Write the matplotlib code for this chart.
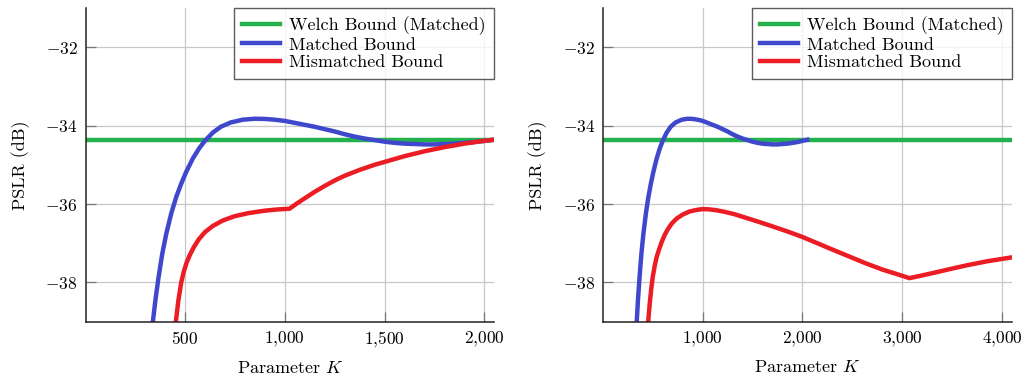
import matplotlib
matplotlib.use("Agg")
import matplotlib.pyplot as plt
from matplotlib.ticker import FuncFormatter

plt.rcParams['font.family'] = ['cmr10', 'DejaVu Serif']
plt.rcParams['mathtext.fontset'] = 'cm'
plt.rcParams['axes.formatter.use_mathtext'] = True
plt.rcParams['axes.unicode_minus'] = True

# Welch bound (matched), constant over K
welch_db = -34.36

# matched bound (same curve on both panels, K up to 2048)
k_matched = [330, 340, 354, 369, 387, 407, 432, 457, 482, 507, 540, 573, 602, 640,
             680, 730, 790, 850, 900, 950, 1000, 1050, 1100, 1150, 1200, 1250, 1300,
             1350, 1400, 1450, 1500, 1550, 1600, 1650, 1700, 1750, 1800, 1850, 1900,
             1950, 2000, 2048]
pslr_matched = [-39.5, -39.0, -38.4, -37.85, -37.27, -36.76, -36.24, -35.82, -35.48,
                -35.18, -34.84, -34.57, -34.38, -34.18, -34.03, -33.92, -33.85, -33.825,
                -33.83, -33.85, -33.88, -33.93, -33.98, -34.03, -34.09, -34.15, -34.22,
                -34.28, -34.33, -34.37, -34.41, -34.44, -34.46, -34.47, -34.48, -34.48,
                -34.47, -34.46, -34.44, -34.42, -34.39, -34.36]

# mismatched bound, left panel (K up to 2048)
k_mis_left = [445, 455, 468, 482, 495, 510, 525, 545, 570, 600, 640, 690, 750, 820,
              900, 960, 1024, 1060, 1100, 1150, 1200, 1250, 1300, 1375, 1450, 1525,
              1600, 1700, 1800, 1900, 1975, 2048]
pslr_mis_left = [-39.5, -39.0, -38.45, -38.0, -37.72, -37.48, -37.3, -37.1, -36.9,
                 -36.72, -36.56, -36.42, -36.31, -36.23, -36.17, -36.14, -36.12, -35.99,
                 -35.855, -35.69, -35.54, -35.4, -35.28, -35.13, -35.0, -34.89, -34.78,
                 -34.655, -34.55, -34.46, -34.405, -34.36]

# mismatched bound, right panel (K up to 4096)
k_mis_right = [440, 455, 470, 485, 500, 520, 540, 565, 590, 620, 650, 690, 740, 800,
               870, 940, 1000, 1060, 1130, 1223, 1320, 1420, 1557, 1700, 1850, 2000,
               2150, 2308, 2480, 2642, 2800, 2950, 3072, 3200, 3340, 3475, 3650, 3850,
               4096]
pslr_mis_right = [-39.6, -39.0, -38.55, -38.18, -37.87, -37.58, -37.35, -37.15, -36.97,
                  -36.79, -36.65, -36.5, -36.37, -36.27, -36.19, -36.15, -36.13,
                  -36.135, -36.155, -36.2, -36.26, -36.34, -36.45, -36.57, -36.7, -36.84,
                  -37.0, -37.17, -37.35, -37.52, -37.67, -37.79, -37.89, -37.82, -37.74,
                  -37.66, -37.56, -37.46, -37.36]

xticks_left = [500, 1000, 1500, 2000]
xticks_right = [1000, 2000, 3000, 4000]
yticks = [-38, -36, -34, -32]

c_green = '#22b14c'
c_blue = '#3f48cc'
c_red = '#ec1c24'
fs_tick = 12.5
fs = 13

fig = plt.figure(figsize=(10.27, 3.78), dpi=100)
ax1 = fig.add_axes([0.0837, 0.149, 0.3973, 0.830])
ax2 = fig.add_axes([0.5874, 0.149, 0.3977, 0.830])


def comma_fmt(v, pos):
    return '${:,}$'.format(int(v)).replace(',', '{,}')


def style(ax, xmax, xticks):
    ax.set_xlim(5, xmax)
    ax.set_ylim(-39, -31)
    ax.set_xticks(xticks)
    ax.set_yticks(yticks)
    ax.xaxis.set_major_formatter(FuncFormatter(comma_fmt))
    ax.yaxis.set_major_formatter(FuncFormatter(lambda v, p: '$%d$' % v))
    ax.grid(True, color='#c8c8c8', lw=0.9)
    ax.set_axisbelow(True)
    for s in ['top', 'right']:
        ax.spines[s].set_visible(False)
    for s in ['left', 'bottom']:
        ax.spines[s].set_linewidth(1.1)
        ax.spines[s].set_color('#222222')
    ax.tick_params(direction='in', length=7, width=0.9, color='#777777',
                   labelsize=fs_tick)
    ax.tick_params(axis='x', pad=6)
    ax.tick_params(axis='y', pad=6)
    ax.set_xlabel('Parameter $K$', fontsize=fs, labelpad=7)
    ax.set_ylabel('PSLR (dB)', fontsize=fs, labelpad=11)
    leg = ax.legend(loc='upper right', fontsize=fs, frameon=True, fancybox=False,
                    borderaxespad=0, handlelength=2.1, handletextpad=0.5,
                    labelspacing=0.12, borderpad=0.45)
    leg.get_frame().set_edgecolor('#333333')
    leg.get_frame().set_linewidth(1.0)


ax1.axhline(welch_db, color=c_green, lw=3.2, label='Welch Bound (Matched)')
ax1.plot(k_matched, pslr_matched, color=c_blue, lw=3.2, label='Matched Bound')
ax1.plot(k_mis_left, pslr_mis_left, color=c_red, lw=3.2, label='Mismatched Bound')
style(ax1, 2048, xticks_left)

ax2.axhline(welch_db, color=c_green, lw=3.2, label='Welch Bound (Matched)')
ax2.plot(k_matched, pslr_matched, color=c_blue, lw=3.2, label='Matched Bound')
ax2.plot(k_mis_right, pslr_mis_right, color=c_red, lw=3.2, label='Mismatched Bound')
style(ax2, 4096, xticks_right)

fig.savefig('out.png', dpi=100)
